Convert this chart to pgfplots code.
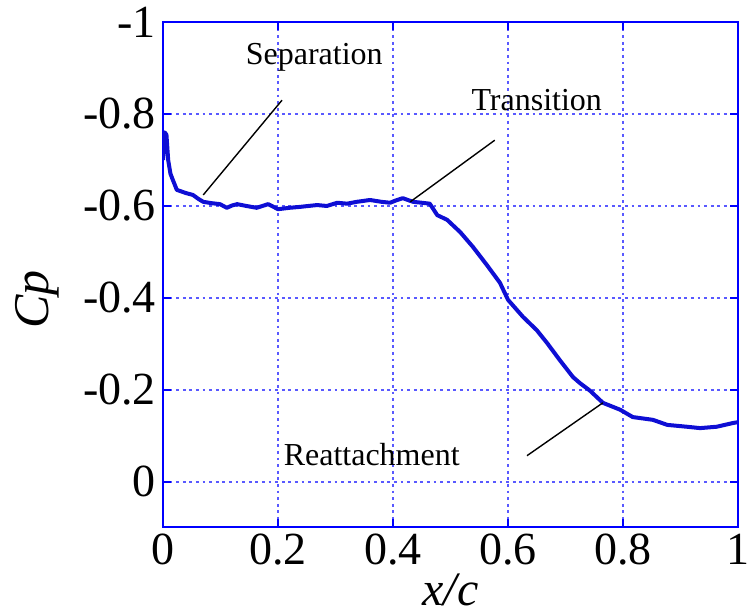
\documentclass[border=0pt]{standalone}
\usepackage{fontspec}
\setmainfont{Liberation Serif}
\usepackage{pgfplots}
\pgfplotsset{compat=1.18}
\definecolor{cpblue}{RGB}{14,14,212}
\definecolor{frameblue}{RGB}{0,0,255}

\begin{document}
\begin{tikzpicture}
\begin{axis}[
  scale only axis,
  width=287.5pt, height=252.5pt,
  xmin=0, xmax=1, ymin=-1, ymax=0.098,
  y dir=reverse,
  xtick={0,0.2,0.4,0.6,0.8,1},
  ytick={-1,-0.8,-0.6,-0.4,-0.2,0},
  /pgf/number format/assume math mode=true,
  tick label style={font=\fontsize{23}{23}\selectfont, black},
  tick align=inside,
  major tick length=4pt,
  every tick/.style={frameblue, line width=0.9pt},
  axis line style={frameblue, line width=1pt},
  grid=major,
  major grid style={frameblue!65!white, line width=1.1pt, dash pattern=on 1.4pt off 1.9pt},
  xlabel={\textit{x/c}},
  ylabel={\textit{Cp}},
  every axis x label/.style={at={(axis description cs:0.5,-0.124)}, anchor=center, font=\fontsize{24}{24}\selectfont},
  every axis y label/.style={at={(axis description cs:-0.218,0.45)}, anchor=center, rotate=90, font=\fontsize{25}{25}\selectfont},
]
\addplot[cpblue, line width=2pt, line join=round] coordinates {
(0.000,-0.700) (0.003,-0.760) (0.006,-0.755) (0.009,-0.700) (0.013,-0.670)
(0.017,-0.657) (0.024,-0.635) (0.040,-0.628) (0.052,-0.624) (0.062,-0.615)
(0.070,-0.609) (0.085,-0.606) (0.099,-0.604) (0.111,-0.596) (0.120,-0.601)
(0.129,-0.604) (0.145,-0.600) (0.163,-0.596) (0.183,-0.604) (0.200,-0.593)
(0.220,-0.596) (0.238,-0.598) (0.268,-0.602) (0.285,-0.600) (0.303,-0.607)
(0.320,-0.605) (0.337,-0.609) (0.360,-0.613) (0.380,-0.609) (0.395,-0.607)
(0.405,-0.612) (0.417,-0.617) (0.428,-0.612) (0.435,-0.609) (0.450,-0.607)
(0.464,-0.605) (0.477,-0.580) (0.494,-0.570) (0.517,-0.543) (0.539,-0.511)
(0.563,-0.472) (0.586,-0.433) (0.600,-0.396) (0.626,-0.359) (0.650,-0.330)
(0.668,-0.302) (0.690,-0.265) (0.713,-0.228) (0.725,-0.215) (0.743,-0.198)
(0.765,-0.172) (0.795,-0.157) (0.817,-0.141) (0.852,-0.135) (0.877,-0.124)
(0.911,-0.120) (0.934,-0.117) (0.963,-0.120) (0.991,-0.128) (1.000,-0.130)
};
% flow-feature annotations
\draw[black, line width=0.7pt] (axis cs:0.070,-0.624) -- (axis cs:0.207,-0.830);
\draw[black, line width=0.7pt] (axis cs:0.430,-0.609) -- (axis cs:0.577,-0.743);
\draw[black, line width=0.7pt] (axis cs:0.765,-0.172) -- (axis cs:0.633,-0.057);
\node[font=\fontsize{16}{16}\selectfont] at (axis cs:0.263,-0.924) {Separation};
\node[font=\fontsize{16}{16}\selectfont] at (axis cs:0.650,-0.830) {Transition};
\node[font=\fontsize{16}{16}\selectfont] at (axis cs:0.363,-0.059) {Reattachment};
\end{axis}
\pgfresetboundingbox
\path[use as bounding box] ([shift={(-81.5pt,-43.5pt)}]current axis.south west) rectangle ([shift={(6.5pt,11pt)}]current axis.north east);
\end{tikzpicture}
\end{document}
